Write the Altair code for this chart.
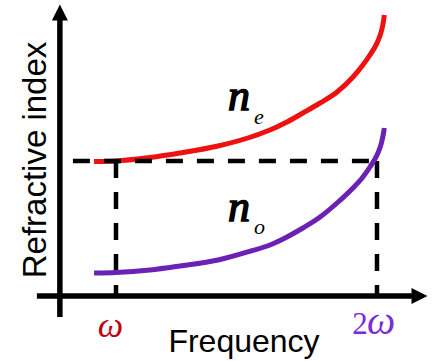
import altair as alt
import pandas as pd

# ---- data (frequency in units of omega, refractive index) ----
freq_e = [0.916, 1.000, 1.130, 1.245, 1.391, 1.517, 1.590, 1.655, 1.716, 1.782, 1.847,
          1.908, 1.946, 1.973, 2.000, 2.017, 2.025, 2.028]
idx_e = [1.6595, 1.660, 1.6635, 1.668, 1.675, 1.684, 1.691, 1.699, 1.708, 1.718, 1.729,
         1.744, 1.756, 1.766, 1.778, 1.790, 1.800, 1.806]
freq_o = [0.916, 1.000, 1.130, 1.245, 1.391, 1.517, 1.590, 1.655, 1.716, 1.782, 1.847,
          1.908, 1.946, 1.973, 2.000, 2.017, 2.025, 2.028]
idx_o = [1.548, 1.5485, 1.551, 1.555, 1.561, 1.570, 1.576, 1.584, 1.593, 1.604, 1.618,
         1.633, 1.644, 1.654, 1.666, 1.678, 1.688, 1.693]

omega = 1.0
two_omega = 2.0
n_match = 1.660          # n_e(omega) = n_o(2 omega)

# schematic frame (data units)
x_dom = [0.5556, 2.2299]
y_dom = [1.460, 1.821]
axis_f = 0.785           # vertical axis position
axis_n = 1.525           # horizontal axis position

xs = alt.Scale(domain=x_dom, nice=False, zero=False)
ys = alt.Scale(domain=y_dom, nice=False, zero=False)

def X(f="f"):
    return alt.X(f"{f}:Q", scale=xs, axis=None)

def Y(f="n"):
    return alt.Y(f"{f}:Q", scale=ys, axis=None)

ne_df = pd.DataFrame({"f": freq_e, "n": idx_e})
no_df = pd.DataFrame({"f": freq_o, "n": idx_o})

red_curve = alt.Chart(ne_df).mark_line(color="#EE1111", strokeWidth=5, interpolate="monotone").encode(x=X(), y=Y())
purple_curve = alt.Chart(no_df).mark_line(color="#6B21B4", strokeWidth=5, interpolate="monotone").encode(x=X(), y=Y())

# axes
axes_df = pd.DataFrame({
    "f": [axis_f, 0.697],
    "f2": [axis_f, 2.150],
    "n": [1.504, axis_n],
    "n2": [1.805, axis_n],
})
axes = alt.Chart(axes_df).mark_rule(color="black", strokeWidth=5.5).encode(
    x=X(), x2="f2:Q", y=Y(), y2="n2:Q")

arrow_up = alt.Chart(pd.DataFrame({"f": [axis_f], "n": [1.8085]})).mark_point(
    shape="M0,-1L1,1L-1,1Z", filled=True, color="black", opacity=1, size=256, strokeWidth=0
).encode(x=X(), y=Y())
arrow_right = alt.Chart(pd.DataFrame({"f": [2.1628], "n": [axis_n]})).mark_point(
    shape="M1,0L-1,-1L-1,1Z", filled=True, color="black", opacity=1, size=256, strokeWidth=0
).encode(x=X(), y=Y())

# dashed guides
dash_df = pd.DataFrame({
    "f": [0.835, omega, two_omega],
    "f2": [two_omega + 0.01, omega, two_omega],
    "n": [n_match, n_match, n_match],
    "n2": [n_match, axis_n, axis_n],
})
dashes = alt.Chart(dash_df).mark_rule(color="black", strokeWidth=4.5, strokeDash=[17, 14]).encode(
    x=X(), x2="f2:Q", y=Y(), y2="n2:Q")

SERIF = "Liberation Serif"

def label(text, f, n, size, color="black", font="Liberation Sans", style="normal",
          align="center", angle=0, bold=False):
    kw = dict(text=text, fontSize=size, color=color, font=font, fontStyle=style,
              align=align, baseline="alphabetic")
    if angle:
        kw["angle"] = angle
    if bold:
        kw["stroke"] = color
        kw["strokeWidth"] = 1.6
    return alt.Chart(pd.DataFrame({"f": [f], "n": [n]})).mark_text(**kw).encode(x=X(), y=Y())

labels = [
    label("Refractive index", 0.7337, 1.661, 33, angle=270),
    label("Frequency", 1.4904, 1.469, 32),
    label("ω", 0.979, 1.484, 36, color="#C00010", font=SERIF, style="italic"),
    label("2", 1.935, 1.487, 31, color="#7B2BD9", font=SERIF, align="center"),
    label("ω", 2.016, 1.487, 40, color="#7B2BD9", font=SERIF, style="italic"),
    label("n", 1.429, 1.7115, 44, font=SERIF, style="italic", align="left", bold=True),
    label("e", 1.529, 1.697, 22, font=SERIF, style="italic", align="left"),
    label("n", 1.429, 1.600, 44, font=SERIF, style="italic", align="left", bold=True),
    label("o", 1.529, 1.587, 22, font=SERIF, style="italic", align="left"),
]

chart = alt.layer(
    red_curve, dashes, purple_curve, axes, arrow_up, arrow_right, *labels
).properties(
    width=437, height=361, padding=0, autosize=alt.AutoSizeParams(type="none"),
    background="white"
).configure_view(stroke=None)

chart.save("out.html", embed_options={"renderer": "svg", "actions": False})
